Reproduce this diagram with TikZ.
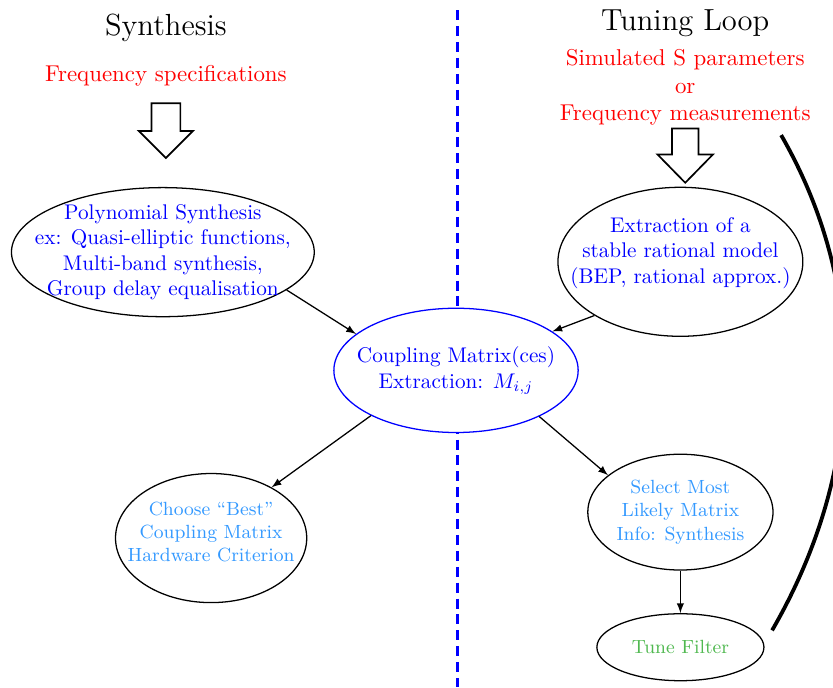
\documentclass[tikz,border=0pt]{standalone}
\usetikzlibrary{shapes.geometric}

\definecolor{skyblue}{RGB}{51,153,255}
\definecolor{leafgreen}{RGB}{80,185,80}

\begin{document}
\begin{tikzpicture}[bubble/.style={ellipse, draw, semithick, inner sep=0pt, fill=white},
  link/.style={-latex, semithick},
  hollow/.style={draw, thick, fill=white, line join=miter},
  input/.style={red, align=center, font=\fontsize{10.8}{13}\selectfont}]

\useasboundingbox (0,0) rectangle (13.81,-11.39);

\draw [blue, line width=1.4pt, dash pattern=on 4.7pt off 2.8pt] (7.58,-0.17) -- (7.58,-11.39);

\draw (2.75,-0.46) node (synthesis) {\Large Synthesis};
\draw (synthesis) +(0,-0.8) node (specs) [input] {Frequency specifications};
\draw [hollow] (specs) ++(-0.24,-0.45) -- ++(0.48,0) -- ++(0,-0.46) -- ++(0.21,0) -- ++(-0.45,-0.45) -- ++(-0.45,0.45) -- ++(0.21,0) -- cycle;

\draw (11.36,-0.38) node (tuning) {\Large Tuning Loop};
\draw (tuning) +(0,-1.07) node (meas) [input] {Simulated S parameters\\ or\\ Frequency measurements};
\draw [hollow] (meas) ++(-0.22,-0.68) -- ++(0.44,0) -- ++(0,-0.43) -- ++(0.24,0) -- ++(-0.46,-0.47) -- ++(-0.46,0.47) -- ++(0.24,0) -- cycle;

\draw (2.70,-4.18) node (poly) [bubble, minimum width=5.02cm, minimum height=2.14cm] {};
\draw (poly) node [blue, align=center] {Polynomial Synthesis\\ ex: Quasi-elliptic functions,\\ Multi-band synthesis,\\ Group delay equalisation};

\draw (11.28,-4.34) node (ext) [bubble, minimum width=4.06cm, minimum height=2.47cm] {};
\draw (ext) ++(0,0.15) node [blue, align=center] {Extraction of a\\ stable rational model\\ (BEP, rational approx.)};

\draw (7.56,-6.14) node (coupling) [bubble, draw=blue, minimum width=4.05cm, minimum height=2.06cm] {};
\draw (coupling) node [blue, align=center] {Coupling Matrix(ces)\\ Extraction: $M_{i,j}$};

\draw (3.50,-8.92) node (choose) [bubble, minimum width=3.17cm, minimum height=2.14cm] {};
\draw (choose) ++(0,0.1) node [skyblue, align=center, font=\small] {Choose ``Best''\\ Coupling Matrix\\ Hardware Criterion};

\draw (11.28,-8.49) node (select) [bubble, minimum width=3.07cm, minimum height=1.92cm] {};
\draw (select) node [skyblue, align=center, font=\small] {Select Most\\ Likely Matrix\\ Info: Synthesis};

\draw (11.28,-10.73) node (tune) [bubble, minimum width=2.77cm, minimum height=1.11cm] {};
\draw (tune) node [leafgreen, font=\small] {Tune Filter};

\draw [link] (poly.-17) -- (coupling.160);
\draw [link] (ext.212) -- (coupling.22);
\draw [link] (coupling.208) -- (choose.40);
\draw [link] (coupling.-29) -- (select.153);
\draw [link] (select.south) -- (tune.north);

\coordinate (loopstart) at (12.80,-10.45);
\coordinate (loopend) at (12.95,-2.24);
\draw [line width=1.8pt] (loopstart) .. controls (14.34,-7.79) and (14.43,-4.81) .. (loopend);

\end{tikzpicture}
\end{document}
